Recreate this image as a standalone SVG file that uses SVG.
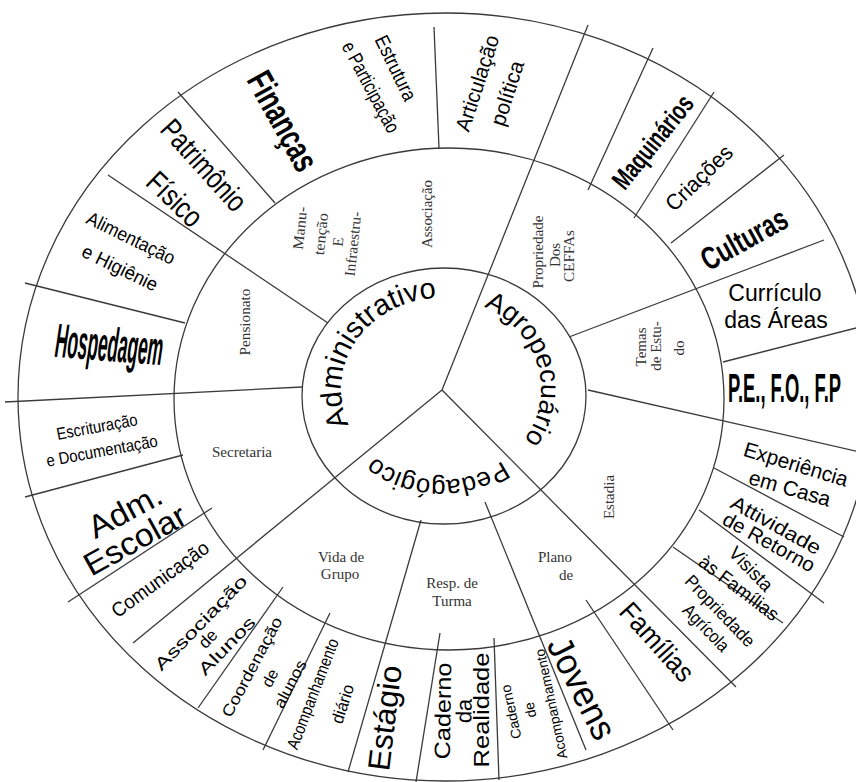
<svg xmlns="http://www.w3.org/2000/svg" width="856" height="782" viewBox="0 0 856 782">
<style>
.ring{fill:none;stroke:#3a3a3a;stroke-width:1.3}
.ln{stroke:#3a3a3a;stroke-width:1.3;fill:none}
.o{font-family:"Liberation Sans",Arial,sans-serif;fill:#000;text-anchor:middle;dominant-baseline:central}
.b{font-weight:bold}
.m{font-family:"Liberation Serif","Times New Roman",serif;fill:#333;font-size:15px;text-anchor:middle;dominant-baseline:central}
.hub{font-family:"Liberation Sans",Arial,sans-serif;fill:#000;text-anchor:middle}
</style>
<defs>
<path id="pA" d="M 352.71 431.72 A 100 91 0 0 1 444.49 298.06"/>
<path id="pB" d="M 466.88 301.10 A 100 91 0 0 1 511.71 453.35"/>
<path id="pC" d="M 525.8 437.22 A 100 91 0 0 1 352.71 431.72"/>
</defs>
<rect width="856" height="782" fill="#fff"/>
<g id="rings">
<ellipse class="ring" cx="445" cy="397" rx="427" ry="384"/>
<ellipse class="ring" cx="449" cy="399" rx="275" ry="251"/>
<ellipse class="ring" cx="444" cy="396" rx="142" ry="128"/>
</g>
<g id="connectors">
<line class="ln" x1="442" y1="390" x2="588" y2="25"/>
<line class="ln" x1="442" y1="390" x2="133" y2="643"/>
<line class="ln" x1="442" y1="390" x2="736" y2="687"/>
<line class="ln" x1="178" y1="92" x2="275" y2="203"/>
<line class="ln" x1="108" y1="175" x2="328" y2="323"/>
<line class="ln" x1="25" y1="283" x2="185" y2="323"/>
<line class="ln" x1="5" y1="402" x2="302" y2="387"/>
<line class="ln" x1="25" y1="497" x2="183" y2="455"/>
<line class="ln" x1="68" y1="602" x2="212" y2="508"/>
<line class="ln" x1="198" y1="708" x2="283" y2="587"/>
<line class="ln" x1="263" y1="750" x2="330" y2="613"/>
<line class="ln" x1="348" y1="772" x2="421" y2="520"/>
<line class="ln" x1="416" y1="782" x2="440" y2="633"/>
<line class="ln" x1="494" y1="638" x2="499" y2="780"/>
<line class="ln" x1="485" y1="502" x2="586" y2="750"/>
<line class="ln" x1="586" y1="600" x2="673" y2="730"/>
<line class="ln" x1="673" y1="547" x2="783" y2="623"/>
<line class="ln" x1="699" y1="510" x2="824" y2="603"/>
<line class="ln" x1="714" y1="468" x2="844" y2="537"/>
<line class="ln" x1="588" y1="390" x2="860" y2="452"/>
<line class="ln" x1="723" y1="362" x2="860" y2="327"/>
<line class="ln" x1="569" y1="337" x2="824" y2="240"/>
<line class="ln" x1="671" y1="243" x2="784" y2="155"/>
<line class="ln" x1="634" y1="218" x2="714" y2="92"/>
<line class="ln" x1="588" y1="190" x2="653" y2="48"/>
<line class="ln" x1="439" y1="148" x2="434" y2="27"/>
</g>
<g id="hub-administrativo"><text class="hub" font-size="29"><textPath href="#pA" startOffset="50%">Administrativo</textPath></text></g>
<g id="hub-agropecuario"><text class="hub" font-size="27"><textPath href="#pB" startOffset="50%">Agropecuário</textPath></text></g>
<g id="hub-pedagogico"><text class="hub" font-size="26"><textPath href="#pC" startOffset="50%">Pedagógico</textPath></text></g>
<g id="mid-manutencao">
<text class="m" transform="translate(300,228) rotate(-84)" textLength="43" lengthAdjust="spacingAndGlyphs">Manu-</text>
<text class="m" transform="translate(321,234) rotate(-84)" textLength="42" lengthAdjust="spacingAndGlyphs">tenção</text>
<text class="m" transform="translate(338,242) rotate(-84)">E</text>
<text class="m" transform="translate(353,244) rotate(-84)" textLength="65" lengthAdjust="spacingAndGlyphs">Infraestru-</text>
</g>
<g id="mid-associacao"><text class="m" transform="translate(427,214) rotate(-90)" textLength="68" lengthAdjust="spacingAndGlyphs">Associação</text></g>
<g id="mid-pensionato"><text class="m" transform="translate(245,322) rotate(-90)" textLength="67" lengthAdjust="spacingAndGlyphs">Pensionato</text></g>
<g id="mid-secretaria"><text class="m" x="242" y="452" textLength="60" lengthAdjust="spacingAndGlyphs">Secretaria</text></g>
<g id="mid-vida"><text class="m" x="341" y="557">Vida de</text><text class="m" x="340" y="574">Grupo</text></g>
<g id="mid-resp"><text class="m" x="452" y="583">Resp. de</text><text class="m" x="452" y="601">Turma</text></g>
<g id="mid-plano"><text class="m" x="555" y="557">Plano</text><text class="m" x="566" y="575">de</text></g>
<g id="mid-estadia"><text class="m" transform="translate(609,497) rotate(-90)">Estadia</text></g>
<g id="mid-temas">
<text class="m" transform="translate(641,347) rotate(-90)">Temas</text>
<text class="m" transform="translate(656,346) rotate(-90)">de Estu-</text>
<text class="m" transform="translate(679,348) rotate(-90)">do</text>
</g>
<g id="mid-propriedade">
<text class="m" transform="translate(538,252) rotate(-90)" textLength="73" lengthAdjust="spacingAndGlyphs">Propriedade</text>
<text class="m" transform="translate(555,255) rotate(-90)">Dos</text>
<text class="m" transform="translate(569,256) rotate(-90)" textLength="52" lengthAdjust="spacingAndGlyphs">CEFFAs</text>
</g>
<g id="out-financas"><text class="o b" font-size="36" transform="translate(283,121) rotate(61)" textLength="108" lengthAdjust="spacingAndGlyphs">Finanças</text></g>
<g id="out-estrutura">
<text class="o" font-size="20" transform="translate(396,68) rotate(64)" textLength="70" lengthAdjust="spacingAndGlyphs">Estrutura</text>
<text class="o" font-size="20" transform="translate(371,87) rotate(62)" textLength="100" lengthAdjust="spacingAndGlyphs">e Participação</text>
</g>
<g id="out-articulacao">
<text class="o" font-size="21" transform="translate(477,83) rotate(-72)" textLength="100" lengthAdjust="spacingAndGlyphs">Articulação</text>
<text class="o" font-size="21" transform="translate(507,93) rotate(-72)" textLength="67" lengthAdjust="spacingAndGlyphs">política</text>
</g>
<g id="out-maquinarios"><text class="o b" font-size="27" transform="translate(653,142) rotate(-51)" textLength="112" lengthAdjust="spacingAndGlyphs">Maquinários</text></g>
<g id="out-criacoes"><text class="o" font-size="22" transform="translate(699,178) rotate(-44)" textLength="84" lengthAdjust="spacingAndGlyphs">Criações</text></g>
<g id="out-culturas"><text class="o b" font-size="32" transform="translate(744,239) rotate(-29)" textLength="94" lengthAdjust="spacingAndGlyphs">Culturas</text></g>
<g id="out-curriculo">
<text class="o" font-size="23" transform="translate(775,293)">Currículo</text>
<text class="o" font-size="23" transform="translate(776,320)">das Áreas</text>
</g>
<g id="out-pe"><text class="o b" font-size="40" x="0" y="0" style="text-anchor:start;dominant-baseline:auto" transform="translate(728,402) scale(0.46,1)">P.E., F.O., F.P</text></g>
<g id="out-experiencia">
<text class="o" font-size="21" transform="translate(796,464) rotate(17)" textLength="108" lengthAdjust="spacingAndGlyphs">Experiência</text>
<text class="o" font-size="21" transform="translate(790,488) rotate(16)" textLength="84" lengthAdjust="spacingAndGlyphs">em Casa</text>
</g>
<g id="out-atividade">
<text class="o" font-size="20" transform="translate(776,525) rotate(29)" textLength="100" lengthAdjust="spacingAndGlyphs">Attividade</text>
<text class="o" font-size="20" transform="translate(769,542) rotate(29)" textLength="102" lengthAdjust="spacingAndGlyphs">de Retorno</text>
</g>
<g id="out-visita">
<text class="o" font-size="19" transform="translate(751,569) rotate(46)" textLength="54" lengthAdjust="spacingAndGlyphs">Visista</text>
<text class="o" font-size="19" transform="translate(739,588) rotate(37)" textLength="95" lengthAdjust="spacingAndGlyphs">às Famílias</text>
</g>
<g id="out-propriedade">
<text class="o" font-size="18" transform="translate(720,611) rotate(46)" textLength="92" lengthAdjust="spacingAndGlyphs">Propriedade</text>
<text class="o" font-size="18" transform="translate(706,628) rotate(46)" textLength="58" lengthAdjust="spacingAndGlyphs">Agrícola</text>
</g>
<g id="out-familias"><text class="o" font-size="28" transform="translate(657,642) rotate(48)" textLength="96" lengthAdjust="spacingAndGlyphs">Famílias</text></g>
<g id="out-jovens"><text class="o" font-size="36" transform="translate(582,688) rotate(63)" textLength="110" lengthAdjust="spacingAndGlyphs">Jovens</text></g>
<g id="out-caderno-acomp">
<text class="o" font-size="14" transform="translate(511,712) rotate(-102)" textLength="55" lengthAdjust="spacingAndGlyphs">Caderno</text>
<text class="o" font-size="14" transform="translate(530,710) rotate(-102)">de</text>
<text class="o" font-size="14" transform="translate(551,704) rotate(-102)" textLength="112" lengthAdjust="spacingAndGlyphs">Acompanhamento</text>
</g>
<g id="out-caderno-realidade">
<text class="o" font-size="22" transform="translate(443,711) rotate(-89)" textLength="97" lengthAdjust="spacingAndGlyphs">Caderno</text>
<text class="o" font-size="22" transform="translate(464,711) rotate(-89)">da</text>
<text class="o" font-size="22" transform="translate(481,710) rotate(-90)" textLength="115" lengthAdjust="spacingAndGlyphs">Realidade</text>
</g>
<g id="out-estagio"><text class="o" font-size="31" transform="translate(385,718) rotate(-83)" textLength="106" lengthAdjust="spacingAndGlyphs">Estágio</text></g>
<g id="out-acompanhamento">
<text class="o" font-size="17" transform="translate(313,694) rotate(-69)" textLength="117" lengthAdjust="spacingAndGlyphs">Acompanhamento</text>
<text class="o" font-size="17" transform="translate(343,704) rotate(-72)" textLength="40" lengthAdjust="spacingAndGlyphs">diário</text>
</g>
<g id="out-coordenacao">
<text class="o" font-size="16" transform="translate(252,667) rotate(-62)" textLength="111" lengthAdjust="spacingAndGlyphs">Coordenação</text>
<text class="o" font-size="16" transform="translate(270,678) rotate(-62)">de</text>
<text class="o" font-size="16" transform="translate(290,684) rotate(-62)" textLength="52" lengthAdjust="spacingAndGlyphs">alunos</text>
</g>
<g id="out-associacao">
<text class="o" font-size="17" transform="translate(201,623) rotate(-46)" textLength="125" lengthAdjust="spacingAndGlyphs">Associação</text>
<text class="o" font-size="17" transform="translate(208,639) rotate(-46)">de</text>
<text class="o" font-size="17" transform="translate(227,646) rotate(-46)" textLength="74" lengthAdjust="spacingAndGlyphs">Alunos</text>
</g>
<g id="out-comunicacao"><text class="o" font-size="20" transform="translate(160,579) rotate(-36)" textLength="115" lengthAdjust="spacingAndGlyphs">Comunicação</text></g>
<g id="out-adm">
<text class="o" font-size="32" transform="translate(125,511) rotate(-28)" textLength="79" lengthAdjust="spacingAndGlyphs">Adm.</text>
<text class="o" font-size="32" transform="translate(135,540) rotate(-29)" textLength="112" lengthAdjust="spacingAndGlyphs">Escolar</text>
</g>
<g id="out-escrituracao">
<text class="o" font-size="17" transform="translate(97,427) rotate(-10.5)" textLength="82" lengthAdjust="spacingAndGlyphs">Escrituração</text>
<text class="o" font-size="17" transform="translate(102,451) rotate(-10.5)" textLength="113" lengthAdjust="spacingAndGlyphs">e Documentação</text>
</g>
<g id="out-hospedagem"><text class="o b" font-size="48" x="0" y="0" style="dominant-baseline:auto;font-style:italic" transform="translate(108,361) rotate(4.5)" textLength="108" lengthAdjust="spacingAndGlyphs">Hospedagem</text></g>
<g id="out-alimentacao">
<text class="o" font-size="19" transform="translate(131,238) rotate(26)" textLength="96" lengthAdjust="spacingAndGlyphs">Alimentação</text>
<text class="o" font-size="19" transform="translate(120,268) rotate(26)" textLength="82" lengthAdjust="spacingAndGlyphs">e Higiênie</text>
</g>
<g id="out-patrimonio">
<text class="o" font-size="30" transform="translate(204,165) rotate(48)" textLength="112" lengthAdjust="spacingAndGlyphs">Patrimônio</text>
<text class="o" font-size="30" transform="translate(175,199) rotate(44)" textLength="65" lengthAdjust="spacingAndGlyphs">Físico</text>
</g>
</svg>
